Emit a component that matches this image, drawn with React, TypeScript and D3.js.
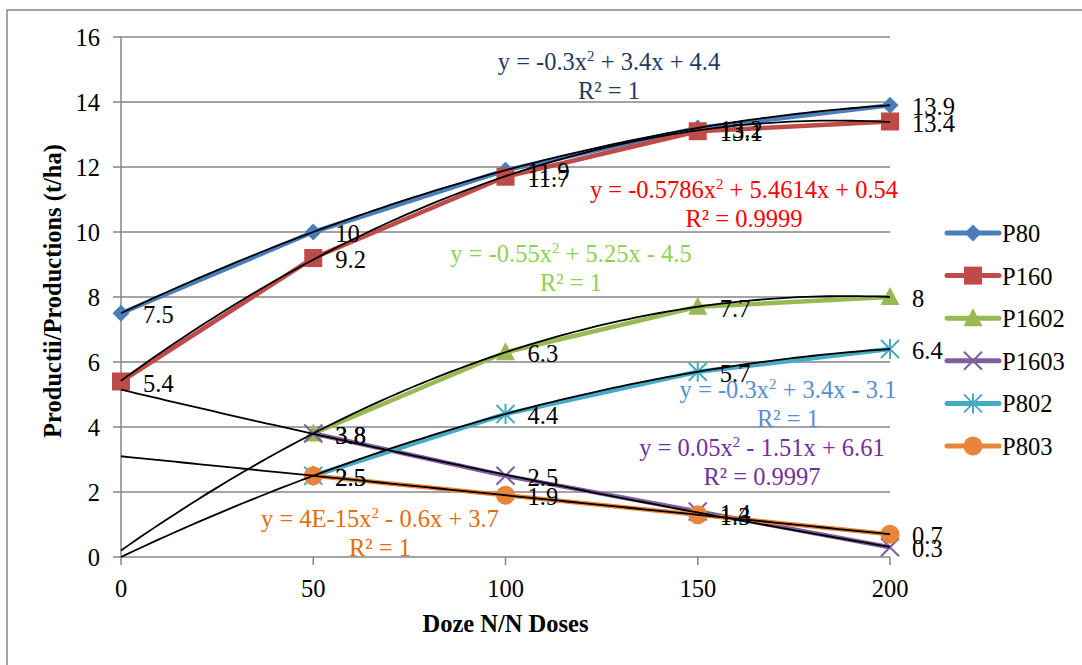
import React from "react";
import * as d3 from "d3";

// Nitrogen doses (categories) and axis ticks
const doses = [0, 50, 100, 150, 200];
const yTicks = [0, 2, 4, 6, 8, 10, 12, 14, 16];

// Yields (t/ha) per series; null = no measurement
const seriesNames = ["P80", "P160", "P1602", "P1603", "P802", "P803"];
const p80 = [7.5, 10, 11.9, 13.2, 13.9];
const p160 = [5.4, 9.2, 11.7, 13.1, 13.4];
const p1602 = [null, 3.8, 6.3, 7.7, 8];
const p1603 = [null, 3.8, 2.5, 1.4, 0.3];
const p802 = [null, 2.5, 4.4, 5.7, 6.4];
const p803 = [null, 2.5, 1.9, 1.3, 0.7];

// Polynomial trend coefficients [a, b, c] for y = a·x² + b·x + c, x = category index (1..5)
const trendP80 = [-0.3, 3.4, 4.4];
const trendP160 = [-0.5786, 5.4614, 0.54];
const trendP1602 = [-0.55, 5.25, -4.5];
const trendP1603 = [0.05, -1.51, 6.61];
const trendP802 = [-0.3, 3.4, -3.1];
const trendP803 = [4e-15, -0.6, 3.7];

// Equation labels: [before superscript, after superscript]
const eqP80 = ["y = -0.3x", " + 3.4x + 4.4"];
const eqP160 = ["y = -0.5786x", " + 5.4614x + 0.54"];
const eqP1602 = ["y = -0.55x", " + 5.25x - 4.5"];
const eqP1603 = ["y = 0.05x", " - 1.51x + 6.61"];
const eqP802 = ["y = -0.3x", " + 3.4x - 3.1"];
const eqP803 = ["y = 4E-15x", " - 0.6x + 3.7"];
const r2Values = ["1", "0.9999", "1", "0.9997", "1", "1"];

const W = 1082;
const H = 665;
const FONT = "Liberation Serif";
const FS = 24.5;

type Marker = "diamond" | "square" | "triangle" | "x" | "star" | "circle";

const series = [
  { name: seriesNames[0], values: p80, trend: trendP80, eq: eqP80, r2: r2Values[0], color: "#4A7EBB", eqColor: "#1F3864", marker: "diamond" as Marker, eqPos: [609, 70] },
  { name: seriesNames[1], values: p160, trend: trendP160, eq: eqP160, r2: r2Values[1], color: "#BE4B48", eqColor: "#FF0000", marker: "square" as Marker, eqPos: [744, 198] },
  { name: seriesNames[2], values: p1602, trend: trendP1602, eq: eqP1602, r2: r2Values[2], color: "#98B954", eqColor: "#92D050", marker: "triangle" as Marker, eqPos: [571, 262] },
  { name: seriesNames[3], values: p1603, trend: trendP1603, eq: eqP1603, r2: r2Values[3], color: "#7D60A0", eqColor: "#7030A0", marker: "x" as Marker, eqPos: [762, 456] },
  { name: seriesNames[4], values: p802, trend: trendP802, eq: eqP802, r2: r2Values[4], color: "#46AAC5", eqColor: "#558ED5", marker: "star" as Marker, eqPos: [788, 398] },
  { name: seriesNames[5], values: p803, trend: trendP803, eq: eqP803, r2: r2Values[5], color: "#E8853A", eqColor: "#E46C0A", marker: "circle" as Marker, eqPos: [380, 527] },
];

function MarkerShape({ kind, x, y, color }: { kind: Marker; x: number; y: number; color: string }) {
  switch (kind) {
    case "diamond":
      return <path d={`M${x},${y - 8.5}L${x + 8.5},${y}L${x},${y + 8.5}L${x - 8.5},${y}Z`} fill={color} />;
    case "square":
      return <rect x={x - 9} y={y - 9} width={18} height={18} fill={color} />;
    case "triangle":
      return <path d={`M${x},${y - 10}L${x + 9.5},${y + 8}L${x - 9.5},${y + 8}Z`} fill={color} />;
    case "x":
      return (
        <path d={`M${x - 9},${y - 9}L${x + 9},${y + 9}M${x + 9},${y - 9}L${x - 9},${y + 9}`} stroke={color} strokeWidth={2} fill="none" />
      );
    case "star":
      return (
        <path
          d={`M${x - 9},${y - 9}L${x + 9},${y + 9}M${x + 9},${y - 9}L${x - 9},${y + 9}M${x},${y - 10}L${x},${y + 10}`}
          stroke={color}
          strokeWidth={2}
          fill="none"
        />
      );
    case "circle":
      return <circle cx={x} cy={y} r={9.5} fill={color} />;
  }
  return null;
}

export default function App() {
  const x = d3.scaleLinear().domain([0, 200]).range([121, 890]);
  const y = d3.scaleLinear().domain([0, 16]).range([557, 37]);

  const line = d3
    .line<number | null>()
    .defined((d) => d != null)
    .x((_, i) => x(doses[i]))
    .y((d) => y(d as number));

  // trend curve sampled along the category index 1..5
  const trendPath = (c: number[]) => {
    const pts = d3.range(0, 201, 2).map((dose) => {
      const t = dose / 50 + 1;
      return [x(dose), y(c[0] * t * t + c[1] * t + c[2])] as [number, number];
    });
    return d3.line()(pts) as string;
  };

  const legendY = (i: number) => 233 + i * 42.6;

  return (
    <svg width={W} height={H} style={{ position: "absolute", left: 0, top: 0, background: "#fff" }}>
      <rect x={0} y={0} width={W} height={H} fill="#fff" />
      <rect x={7} y={10} width={W + 20} height={H + 20} fill="none" stroke="#888" strokeWidth={1.5} />

      {/* horizontal gridlines */}
      {yTicks.map((t) => (
        <line key={`g${t}`} x1={121} x2={890} y1={y(t)} y2={y(t)} stroke="#868686" strokeWidth={1.5} />
      ))}
      {/* axes */}
      <line x1={121} x2={121} y1={y(16)} y2={y(0)} stroke="#868686" strokeWidth={1.5} />
      {yTicks.map((t) => (
        <g key={`yt${t}`}>
          <line x1={113} x2={121} y1={y(t)} y2={y(t)} stroke="#868686" strokeWidth={1.5} />
          <text x={100} y={y(t) + 9} textAnchor="end" fontFamily={FONT} fontSize={FS} fill="#000">
            {t}
          </text>
        </g>
      ))}
      {doses.map((d) => (
        <g key={`xt${d}`}>
          <line x1={x(d)} x2={x(d)} y1={557} y2={565} stroke="#868686" strokeWidth={1.5} />
          <text x={x(d)} y={597} textAnchor="middle" fontFamily={FONT} fontSize={FS} fill="#000">
            {d}
          </text>
        </g>
      ))}

      {/* axis titles */}
      <text x={x(100)} y={632} textAnchor="middle" fontFamily={FONT} fontSize={24.5} fontWeight="bold" fill="#000">
        Doze N/N Doses
      </text>
      <text transform="translate(61,291) rotate(-90)" textAnchor="middle" fontFamily={FONT} fontSize={24.5} fontWeight="bold" fill="#000">
        Productii/Productions (t/ha)
      </text>

      {/* series lines and markers */}
      {series.map((s) => (
        <g key={`s${s.name}`}>
          <path d={line(s.values) as string} fill="none" stroke={s.color} strokeWidth={4.5} strokeLinejoin="round" />
          {s.values.map((v, i) =>
            v == null ? null : <MarkerShape key={i} kind={s.marker} x={x(doses[i])} y={y(v)} color={s.color} />
          )}
        </g>
      ))}

      {/* polynomial trend lines */}
      {series.map((s) => (
        <path key={`t${s.name}`} d={trendPath(s.trend)} fill="none" stroke="#000" strokeWidth={1.8} />
      ))}

      {/* data labels */}
      {series.map((s) => (
        <g key={`l${s.name}`}>
          {s.values.map((v, i) =>
            v == null ? null : (
              <text key={i} x={x(doses[i]) + 22} y={y(v) + 10} fontFamily={FONT} fontSize={FS} fill="#000">
                {v}
              </text>
            )
          )}
        </g>
      ))}

      {/* trend equations */}
      {series.map((s) => (
        <g key={`e${s.name}`}>
          <text x={s.eqPos[0]} y={s.eqPos[1]} textAnchor="middle" fontFamily={FONT} fontSize={FS} fill={s.eqColor} style={{ whiteSpace: "pre" }}>
            {s.eq[0]}
            <tspan dy={-9} fontSize={15}>
              2
            </tspan>
            <tspan dy={9}>{s.eq[1]}</tspan>
          </text>
          <text x={s.eqPos[0]} y={s.eqPos[1] + 28.5} textAnchor="middle" fontFamily={FONT} fontSize={FS} fill={s.eqColor}>
            {`R² = ${s.r2}`}
          </text>
        </g>
      ))}

      {/* legend */}
      {series.map((s, i) => (
        <g key={`lg${s.name}`}>
          <line x1={947} x2={999} y1={legendY(i)} y2={legendY(i)} stroke={s.color} strokeWidth={5} strokeLinecap="round" />
          <MarkerShape kind={s.marker} x={973} y={legendY(i)} color={s.color} />
          <text x={1002} y={legendY(i) + 9} fontFamily={FONT} fontSize={FS} fill="#000">
            {s.name}
          </text>
        </g>
      ))}
    </svg>
  );
}
